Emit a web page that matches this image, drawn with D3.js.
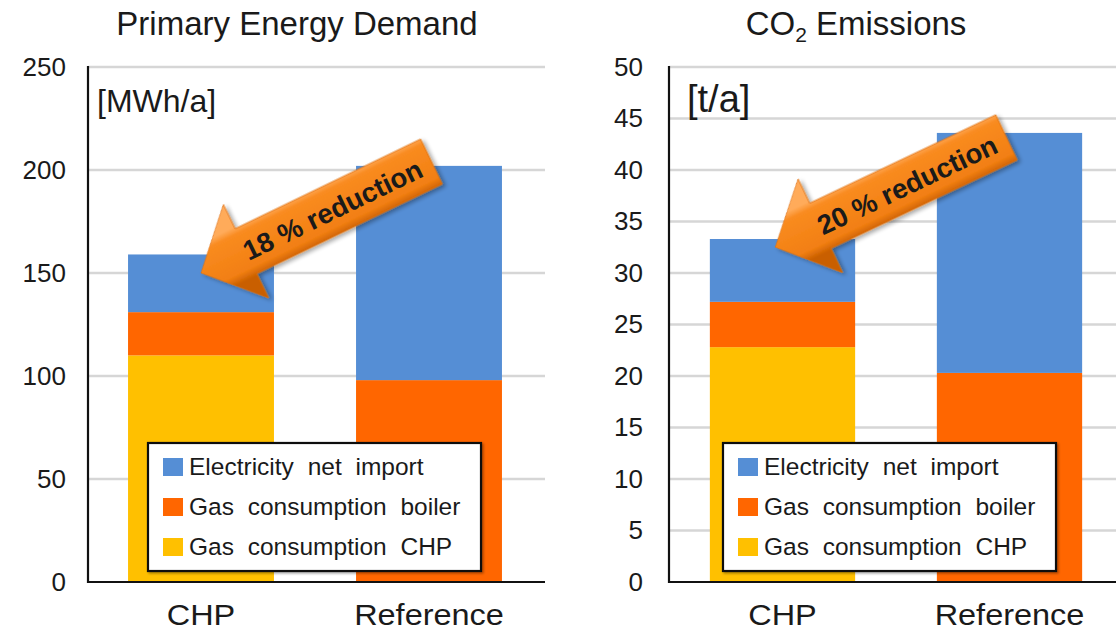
<!DOCTYPE html>
<html>
<head>
<meta charset="utf-8">
<script src="https://cdn.jsdelivr.net/npm/d3@7"></script>
<style>
  html, body { margin: 0; padding: 0; background: #ffffff; }
  svg { display: block; }
  text { font-family: "Liberation Sans", Arial, sans-serif; fill: #1a1a1a; }
</style>
</head>
<body>
<svg id="chart" width="1116" height="632"></svg>
<script>
// Scenarios on the x axis
const categories = ["CHP", "Reference"];

// Stack order from the bottom up
const seriesNames = ["Gas consumption CHP", "Gas consumption boiler", "Electricity net import"];
const seriesColors = ["#ffc000", "#ff6600", "#558ed5"];

// Primary energy demand [MWh/a], per scenario
const energyGasCHP = [110, 0];
const energyGasBoiler = [21, 98];
const energyElectricity = [28, 104];

// CO2 emissions [t/a], per scenario
const co2GasCHP = [22.8, 0];
const co2GasBoiler = [4.4, 20.3];
const co2Electricity = [6.1, 23.3];

// Value axis ticks
const energyTicks = [0, 50, 100, 150, 200, 250];
const co2Ticks = [0, 5, 10, 15, 20, 25, 30, 35, 40, 45, 50];

// Reduction call-outs: label and the value the arrow points at on the CHP bar
const reductionLabels = ["18 % reduction", "20 % reduction"];
const reductionTargets = [150, 32.5];

const svg = d3.select("#chart");
const defs = svg.append("defs");

// Bevel-like shading for the call-out arrows
const grad = defs.append("linearGradient")
  .attr("id", "arrowFill")
  .attr("gradientUnits", "userSpaceOnUse")
  .attr("x1", 0).attr("y1", -27).attr("x2", 0).attr("y2", 27);
grad.append("stop").attr("offset", "0%").attr("stop-color", "#ffab5a");
grad.append("stop").attr("offset", "14%").attr("stop-color", "#f98b20");
grad.append("stop").attr("offset", "82%").attr("stop-color", "#f27f12");
grad.append("stop").attr("offset", "100%").attr("stop-color", "#c95f00");

const shadow = defs.append("filter").attr("id", "arrowShadow")
  .attr("x", "-20%").attr("y", "-40%").attr("width", "140%").attr("height", "180%");
shadow.append("feDropShadow").attr("dx", 2).attr("dy", 3).attr("stdDeviation", 2)
  .attr("flood-color", "#000").attr("flood-opacity", 0.35);

const legendShadow = defs.append("filter").attr("id", "boxShadow")
  .attr("x", "-5%").attr("y", "-5%").attr("width", "110%").attr("height", "115%");
legendShadow.append("feDropShadow").attr("dx", 1.5).attr("dy", 1.5).attr("stdDeviation", 1)
  .attr("flood-color", "#000").attr("flood-opacity", 0.35);

const panels = [
  {
    title: "Primary Energy Demand",
    unit: "[MWh/a]",
    unitSize: 32,
    unitX: 9,
    values: [energyGasCHP, energyGasBoiler, energyElectricity],
    ticks: energyTicks,
    xRange: [87, 543],
    axisX: 88,
    gridEnd: 545,
    labelRight: 66,
    titleX: 297,
    legendX: 148,
    arrowLabel: reductionLabels[0],
    arrowValue: reductionTargets[0],
    arrowShift: 0.5,
    arrowAngle: -25.8
  },
  {
    title: "CO2 Emissions",
    unit: "[t/a]",
    unitSize: 38,
    unitX: 18,
    values: [co2GasCHP, co2GasBoiler, co2Electricity],
    ticks: co2Ticks,
    xRange: [669, 1123],
    axisX: 669,
    gridEnd: 1116,
    labelRight: 643,
    titleX: 856,
    legendX: 723,
    arrowLabel: reductionLabels[1],
    arrowValue: reductionTargets[1],
    arrowShift: 0.45,
    arrowAngle: -25.4
  }
];

const yTop = 67, yBottom = 582;

panels.forEach(p => {
  const g = svg.append("g");
  const yMax = p.ticks[p.ticks.length - 1];

  const x = d3.scaleBand().domain(categories).range(p.xRange)
    .paddingInner(0.36).paddingOuter(0.18);
  const y = d3.scaleLinear().domain([0, yMax]).range([yBottom, yTop]);

  // Gridlines
  g.append("g").selectAll("line").data(p.ticks.filter(t => t > 0)).join("line")
    .attr("x1", p.axisX).attr("x2", p.gridEnd)
    .attr("y1", d => y(d)).attr("y2", d => y(d))
    .attr("stroke", "#d6d6d6").attr("stroke-width", 2.5);

  // Stacked bars
  const rows = categories.map((c, i) => {
    const r = { category: c };
    seriesNames.forEach((s, k) => { r[s] = p.values[k][i]; });
    return r;
  });
  const stacked = d3.stack().keys(seriesNames)(rows);
  g.append("g").selectAll("g").data(stacked).join("g")
    .attr("fill", (d, k) => seriesColors[k])
    .selectAll("rect").data(d => d).join("rect")
    .attr("x", d => x(d.data.category))
    .attr("width", x.bandwidth())
    .attr("y", d => y(d[1]))
    .attr("height", d => Math.max(0, y(d[0]) - y(d[1])));

  // Value axis labels
  const yAxis = d3.axisLeft(y).tickValues(p.ticks).tickSize(0).tickPadding(0);
  const ya = g.append("g").attr("transform", `translate(${p.labelRight},0)`).call(yAxis);
  ya.select(".domain").remove();
  ya.selectAll("text").attr("font-size", 26).attr("font-family", "Liberation Sans, Arial, sans-serif")
    .attr("fill", "#1a1a1a");

  // Axis lines
  g.append("line").attr("x1", p.axisX).attr("x2", p.axisX)
    .attr("y1", yTop - 1).attr("y2", yBottom + 1)
    .attr("stroke", "#111").attr("stroke-width", 2.2);
  g.append("line").attr("x1", p.axisX).attr("x2", p.gridEnd)
    .attr("y1", yBottom).attr("y2", yBottom)
    .attr("stroke", "#111").attr("stroke-width", 2.2);

  // Category labels
  const xAxis = d3.axisBottom(x).tickSize(0).tickPadding(0);
  const xa = g.append("g").attr("transform", `translate(0,${yBottom})`).call(xAxis);
  xa.select(".domain").remove();
  xa.selectAll("text")
    .attr("font-size", 29).attr("font-family", "Liberation Sans, Arial, sans-serif")
    .attr("fill", "#1a1a1a")
    .attr("dy", null).attr("y", 43)
    .attr("transform", "scale(1.12,1)");

  // Title
  const t = g.append("text").attr("x", p.titleX).attr("y", 35)
    .attr("text-anchor", "middle").attr("font-size", 33);
  if (p.title.startsWith("CO2")) {
    t.append("tspan").text("CO");
    t.append("tspan").text("2").attr("font-size", 21).attr("dy", 7);
    t.append("tspan").text(" Emissions").attr("dy", -7);
  } else {
    t.text(p.title);
  }

  // Unit label inside the plot
  g.append("text").attr("x", p.axisX + p.unitX).attr("y", 112)
    .attr("font-size", p.unitSize).text(p.unit);

  // Legend (top entry is the top stack segment)
  const lg = g.append("g").attr("transform", `translate(${p.legendX},443)`);
  lg.append("rect").attr("width", 333).attr("height", 128)
    .attr("fill", "#fff").attr("stroke", "#111").attr("stroke-width", 2.2)
    .attr("filter", "url(#boxShadow)");
  const legendOrder = seriesNames.map((s, k) => ({ name: s, color: seriesColors[k] })).reverse();
  const items = lg.selectAll("g.item").data(legendOrder).join("g").attr("class", "item")
    .attr("transform", (d, i) => `translate(15,${24 + i * 40})`);
  items.append("rect").attr("y", -9).attr("width", 20).attr("height", 18).attr("fill", d => d.color);
  items.append("text").attr("x", 26).attr("y", 8).attr("font-size", 24.5)
    .attr("word-spacing", 7).text(d => d.name);

  // Reduction call-out arrow pointing at the CHP bar
  const tipX = x(categories[0]) + x.bandwidth() * p.arrowShift;
  const tipY = y(p.arrowValue);
  const L = 256, headL = 50, headW = 52, shaftW = 25;
  const shape = [[0, 0], [headL, -headW], [headL, -shaftW], [L, -shaftW], [L, shaftW],
                 [headL, shaftW], [headL, headW]];
  const ag = g.append("g").attr("transform", `translate(${tipX},${tipY}) rotate(${p.arrowAngle})`);
  ag.append("path").attr("d", d3.line()(shape) + "Z")
    .attr("fill", "url(#arrowFill)").attr("stroke", "#e07010").attr("stroke-width", 0.8)
    .attr("filter", "url(#arrowShadow)");
  ag.append("text").attr("x", 146).attr("y", 10)
    .attr("text-anchor", "middle")
    .attr("font-family", "Lato, 'Open Sans', sans-serif").attr("font-weight", 700)
    .attr("font-size", 27.5).attr("fill", "#111")
    .text(p.arrowLabel);
});
</script>
</body>
</html>
